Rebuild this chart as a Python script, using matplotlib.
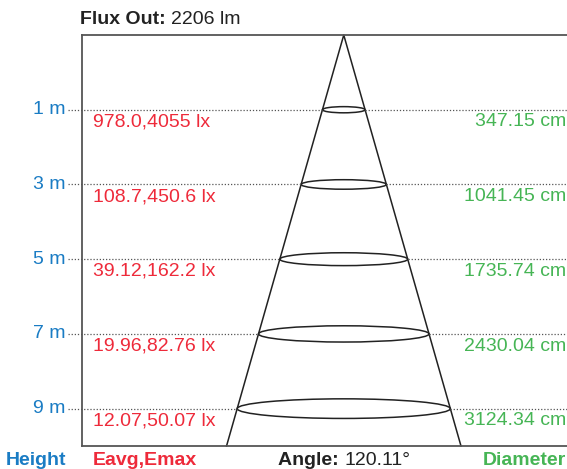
import matplotlib
matplotlib.use("Agg")
import matplotlib.pyplot as plt
from matplotlib.patches import Ellipse

plt.rcParams['font.family'] = ['Liberation Sans', 'DejaVu Sans']

# data
heights = [1, 3, 5, 7, 9]
eavg = ["978.0", "108.7", "39.12", "19.96", "12.07"]
emax = ["4055", "450.6", "162.2", "82.76", "50.07"]
diameters = ["347.15", "1041.45", "1735.74", "2430.04", "3124.34"]
flux_out = "2206"
angle = "120.11"

BLUE = "#1a7cc4"
RED = "#ee2a3a"
GREEN = "#46b555"
DARK = "#222222"
FS = 14

fig = plt.figure(figsize=(5.67, 4.69), dpi=100)
# axes box: px 82..567 wide, 35..446 tall
ax = fig.add_axes([82 / 567, 1 - 446 / 469, 485 / 567, 411 / 469])
ax.set_xlim(-7.0, 5.97)
ax.set_ylim(10, -1)
ax.set_xticks([])
ax.set_yticks([])
for s in ['left', 'top', 'bottom']:
    ax.spines[s].set_color("#555555")
    ax.spines[s].set_linewidth(1.3)
ax.spines['right'].set_visible(False)

slope = 0.285  # half-width of the cone per metre (drawing only)
apex = -1.0
ax.plot([-slope * (10 - apex), 0, slope * (10 - apex)], [10, apex, 10],
        color=DARK, lw=1.1, clip_on=False)

for i, h in enumerate(heights):
    hw = slope * (h - apex)
    eh = 0.12 + 0.045 * h
    ax.add_patch(Ellipse((0, h), 2 * hw, eh, fill=False, ec=DARK, lw=1.1))
    ax.plot([-7.37, -hw], [h, h], color="#555555", lw=0.9, ls=(0, (1, 1.5)), clip_on=False)
    ax.plot([hw, 5.97], [h, h], color="#555555", lw=0.9, ls=(0, (1, 1.5)), clip_on=False)
    ax.text(-7.45, h, f"{h} m", color=BLUE, fontsize=FS, ha='right', va='center')
    ax.text(-6.7, h + 0.1, f"{eavg[i]},{emax[i]} lx", color=RED, fontsize=FS,
            ha='left', va='top')
    ax.text(5.95, h + 0.1, f"{diameters[i]} cm", color=GREEN, fontsize=FS,
            ha='right', va='top')


def two_part(x, y, bold, normal, color, ha='left'):
    r = fig.canvas.get_renderer()
    t1 = fig.text(x / 567, 1 - y / 469, bold, fontsize=FS, fontweight='bold',
                  color=color, va='center')
    t2 = fig.text(0, 1 - y / 469, normal, fontsize=FS, color=color, va='center')
    w1 = t1.get_window_extent(r).width
    w2 = t2.get_window_extent(r).width
    x0 = x if ha == 'left' else x - (w1 + w2) / 2
    t1.set_x(x0 / 567)
    t2.set_x((x0 + w1) / 567)


fig.canvas.draw()
two_part(80, 19, "Flux Out: ", f"{flux_out} lm", DARK)
two_part(344, 460, "Angle: ", f"{angle}°", DARK, ha='center')
fig.text(66 / 567, 1 - 460 / 469, "Height", color=BLUE, fontsize=FS,
         fontweight='bold', ha='right', va='center')
fig.text(93 / 567, 1 - 460 / 469, "Eavg,Emax", color=RED, fontsize=FS,
         fontweight='bold', ha='left', va='center')
fig.text(566 / 567, 1 - 460 / 469, "Diameter", color=GREEN, fontsize=FS,
         fontweight='bold', ha='right', va='center')

fig.savefig("out.png", dpi=100)
